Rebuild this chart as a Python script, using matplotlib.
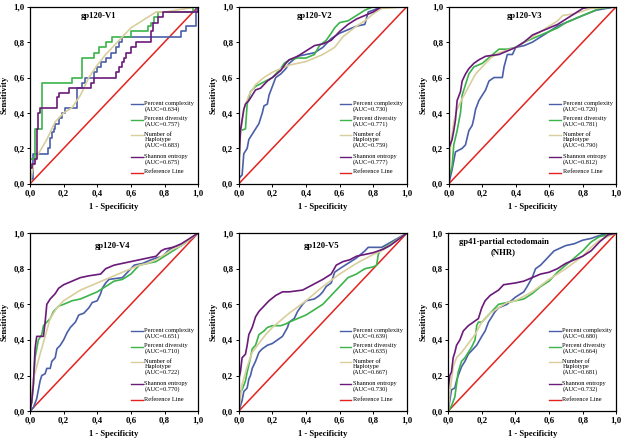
import numpy as np
import matplotlib
matplotlib.use("Agg")
import matplotlib.pyplot as plt

plt.rcParams['font.family'] = ['Liberation Serif', 'DejaVu Serif']

# panel titles and AUC values (complexity, diversity, haplotype, entropy)
titles = ["gp120-V1", "gp120-V2", "gp120-V3", "gp120-V4", "gp120-V5",
          "gp41-partial ectodomain\n(NHR)"]
auc = [[0.634, 0.757, 0.683, 0.675],
       [0.730, 0.771, 0.759, 0.777],
       [0.720, 0.781, 0.790, 0.812],
       [0.651, 0.710, 0.722, 0.770],
       [0.639, 0.635, 0.667, 0.730],
       [0.680, 0.664, 0.681, 0.732]]
names = ["Percent complexity", "Percent diversity", "Number of\nHaplotype", "Shannon entropy"]
colors = ["#4a5fa8", "#3cb44a", "#d9cf9c", "#6a1a78"]
ref_color = "#e4231f"
tick_vals = [0, 0.2, 0.4, 0.6, 0.8, 1.0]
tick_labels = ["0,0", "0,2", "0,4", "0,6", "0,8", "1,0"]

# ---- gp120-V1 (step curves) ----
v1_cx = [0, 0, 0.02, 0.11, 0.12, 0.13, 0.14, 0.15, 0.17, 0.19, 0.21, 0.28, 0.31, 0.33, 0.38, 0.40, 0.42, 0.45, 0.48, 0.51, 0.53, 0.55, 0.90, 0.93, 0.99, 1.0]
v1_cy = [0, 0.03, 0.17, 0.20, 0.26, 0.29, 0.31, 0.34, 0.37, 0.40, 0.43, 0.54, 0.57, 0.60, 0.63, 0.66, 0.69, 0.71, 0.74, 0.77, 0.80, 0.83, 0.86, 0.89, 1.0, 1.0]
v1_dx = [0, 0, 0.03, 0.07, 0.25, 0.31, 0.38, 0.41, 0.45, 0.49, 0.60, 0.70, 0.72, 0.74, 0.76, 0.97, 1.0]
v1_dy = [0, 0.14, 0.31, 0.57, 0.60, 0.71, 0.74, 0.77, 0.80, 0.83, 0.86, 0.89, 0.91, 0.94, 0.97, 1.0, 1.0]
v1_hx = [0, 0.02, 0.05, 0.10, 0.15, 0.20, 0.25, 0.30, 0.35, 0.40, 0.45, 0.50, 0.55, 0.60, 0.70, 0.75, 0.80, 1.0]
v1_hy = [0, 0.10, 0.17, 0.25, 0.35, 0.40, 0.43, 0.50, 0.60, 0.67, 0.73, 0.78, 0.83, 0.88, 0.94, 0.97, 0.97, 1.0]
v1_ex = [0, 0, 0.01, 0.03, 0.04, 0.05, 0.06, 0.16, 0.17, 0.23, 0.36, 0.38, 0.51, 0.53, 0.55, 0.56, 0.57, 0.60, 0.63, 0.72, 0.73, 0.76, 0.79, 1.0, 1.0]
v1_ey = [0, 0.09, 0.11, 0.14, 0.31, 0.40, 0.43, 0.49, 0.51, 0.54, 0.57, 0.60, 0.63, 0.66, 0.69, 0.71, 0.74, 0.77, 0.80, 0.86, 0.91, 0.94, 0.97, 1.0, 1.0]

# ---- gp120-V2 ----
v2_cx = [0, 0, 0.02, 0.03, 0.05, 0.06, 0.08, 0.10, 0.12, 0.14, 0.15, 0.17, 0.18, 0.20, 0.22, 0.25, 0.28, 0.30, 0.35, 0.40, 0.45, 0.50, 0.55, 0.60, 0.65, 0.70, 0.75, 0.77, 0.80, 0.85, 1.0]
v2_cy = [0, 0.03, 0.05, 0.17, 0.20, 0.25, 0.28, 0.31, 0.34, 0.40, 0.44, 0.45, 0.50, 0.55, 0.60, 0.62, 0.65, 0.68, 0.72, 0.73, 0.74, 0.77, 0.82, 0.85, 0.87, 0.89, 0.90, 0.97, 0.98, 1.0, 1.0]
v2_dx = [0, 0, 0.01, 0.04, 0.05, 0.07, 0.10, 0.14, 0.20, 0.25, 0.27, 0.30, 0.35, 0.40, 0.45, 0.48, 0.52, 0.55, 0.57, 0.60, 0.65, 0.70, 0.75, 0.80, 1.0]
v2_dy = [0, 0.10, 0.30, 0.31, 0.45, 0.52, 0.55, 0.57, 0.60, 0.65, 0.68, 0.70, 0.71, 0.71, 0.73, 0.78, 0.81, 0.85, 0.88, 0.91, 0.92, 0.95, 0.98, 1.0, 1.0]
v2_hx = [0, 0.01, 0.03, 0.06, 0.10, 0.15, 0.20, 0.25, 0.30, 0.35, 0.40, 0.45, 0.50, 0.57, 0.62, 0.70, 0.75, 0.80, 0.85, 1.0]
v2_hy = [0, 0.28, 0.42, 0.50, 0.56, 0.60, 0.63, 0.65, 0.67, 0.68, 0.69, 0.71, 0.73, 0.77, 0.83, 0.89, 0.92, 0.96, 0.99, 1.0]
v2_ex = [0, 0, 0.01, 0.02, 0.03, 0.04, 0.06, 0.08, 0.10, 0.13, 0.17, 0.20, 0.25, 0.28, 0.30, 0.35, 0.40, 0.45, 0.50, 0.55, 0.60, 0.65, 0.70, 0.75, 0.80, 0.85, 1.0]
v2_ey = [0, 0.10, 0.30, 0.36, 0.42, 0.45, 0.47, 0.50, 0.53, 0.54, 0.58, 0.60, 0.64, 0.68, 0.70, 0.72, 0.75, 0.78, 0.79, 0.81, 0.86, 0.90, 0.93, 0.95, 0.97, 1.0, 1.0]

# ---- gp120-V3 ----
v3_cx = [0, 0.02, 0.04, 0.08, 0.10, 0.12, 0.14, 0.15, 0.16, 0.18, 0.20, 0.22, 0.24, 0.27, 0.32, 0.33, 0.35, 0.38, 0.40, 0.45, 0.50, 0.55, 0.60, 0.65, 0.70, 0.75, 0.80, 0.88, 1.0]
v3_cy = [0, 0.08, 0.18, 0.20, 0.22, 0.30, 0.33, 0.37, 0.42, 0.47, 0.50, 0.53, 0.58, 0.60, 0.60, 0.66, 0.73, 0.73, 0.77, 0.78, 0.80, 0.83, 0.86, 0.89, 0.91, 0.93, 0.95, 0.98, 1.0]
v3_dx = [0, 0, 0.02, 0.03, 0.05, 0.07, 0.08, 0.10, 0.12, 0.15, 0.20, 0.25, 0.30, 0.35, 0.40, 0.45, 0.50, 0.55, 0.60, 0.65, 0.70, 0.75, 0.80, 0.85, 0.90, 1.0]
v3_dy = [0, 0.03, 0.10, 0.22, 0.30, 0.40, 0.50, 0.56, 0.62, 0.66, 0.68, 0.72, 0.76, 0.76, 0.77, 0.80, 0.82, 0.84, 0.86, 0.88, 0.91, 0.93, 0.95, 0.97, 0.99, 1.0]
v3_hx = [0, 0.01, 0.03, 0.05, 0.08, 0.12, 0.16, 0.20, 0.25, 0.30, 0.40, 0.50, 0.60, 0.65, 0.68, 0.75, 0.85, 1.0]
v3_hy = [0, 0.20, 0.35, 0.42, 0.48, 0.55, 0.62, 0.66, 0.71, 0.74, 0.77, 0.83, 0.89, 0.92, 0.95, 0.96, 0.99, 1.0]
v3_ex = [0, 0, 0.02, 0.03, 0.04, 0.05, 0.07, 0.08, 0.10, 0.12, 0.15, 0.18, 0.22, 0.30, 0.35, 0.40, 0.45, 0.50, 0.55, 0.60, 0.65, 0.70, 0.75, 0.80, 0.85, 1.0]
v3_ey = [0, 0.20, 0.25, 0.30, 0.36, 0.47, 0.52, 0.58, 0.62, 0.65, 0.68, 0.70, 0.72, 0.73, 0.75, 0.77, 0.80, 0.84, 0.86, 0.88, 0.90, 0.93, 0.96, 0.99, 1.0, 1.0]

# ---- gp120-V4 ----
v4_cx = [0, 0.02, 0.04, 0.05, 0.06, 0.07, 0.09, 0.10, 0.12, 0.13, 0.15, 0.16, 0.18, 0.20, 0.22, 0.24, 0.27, 0.29, 0.32, 0.35, 0.37, 0.40, 0.42, 0.43, 0.45, 0.47, 0.55, 0.58, 0.62, 0.67, 0.72, 0.75, 0.79, 0.82, 0.85, 0.90, 1.0]
v4_cy = [0, 0.02, 0.07, 0.12, 0.17, 0.20, 0.21, 0.24, 0.24, 0.28, 0.30, 0.35, 0.37, 0.40, 0.44, 0.47, 0.50, 0.54, 0.55, 0.58, 0.61, 0.62, 0.66, 0.69, 0.72, 0.74, 0.75, 0.78, 0.82, 0.83, 0.85, 0.86, 0.87, 0.90, 0.92, 0.93, 1.0]
v4_dx = [0, 0.01, 0.02, 0.03, 0.05, 0.07, 0.08, 0.10, 0.12, 0.14, 0.17, 0.20, 0.25, 0.30, 0.35, 0.40, 0.45, 0.50, 0.55, 0.60, 0.65, 0.70, 0.75, 0.80, 0.85, 0.90, 1.0]
v4_dy = [0, 0.05, 0.15, 0.30, 0.40, 0.43, 0.48, 0.50, 0.52, 0.56, 0.59, 0.60, 0.62, 0.63, 0.65, 0.67, 0.70, 0.73, 0.74, 0.77, 0.82, 0.83, 0.84, 0.87, 0.90, 0.93, 1.0]
v4_hx = [0, 0.02, 0.04, 0.06, 0.09, 0.12, 0.16, 0.20, 0.25, 0.30, 0.40, 0.50, 0.60, 0.65, 0.70, 0.75, 0.80, 0.85, 0.90, 1.0]
v4_hy = [0, 0.18, 0.25, 0.32, 0.42, 0.52, 0.58, 0.62, 0.65, 0.68, 0.72, 0.76, 0.80, 0.82, 0.83, 0.85, 0.88, 0.91, 0.93, 1.0]
v4_ex = [0, 0.01, 0.02, 0.03, 0.04, 0.08, 0.09, 0.10, 0.12, 0.15, 0.17, 0.20, 0.25, 0.30, 0.35, 0.42, 0.45, 0.50, 0.55, 0.60, 0.65, 0.70, 0.75, 0.78, 0.80, 0.85, 0.90, 1.0]
v4_ey = [0, 0.05, 0.15, 0.35, 0.42, 0.42, 0.50, 0.60, 0.63, 0.66, 0.69, 0.71, 0.73, 0.75, 0.76, 0.77, 0.80, 0.82, 0.83, 0.84, 0.85, 0.86, 0.87, 0.90, 0.91, 0.92, 0.94, 1.0]

# ---- gp120-V5 ----
v5_cx = [0, 0.02, 0.03, 0.05, 0.06, 0.07, 0.08, 0.10, 0.12, 0.14, 0.17, 0.20, 0.23, 0.26, 0.29, 0.30, 0.33, 0.35, 0.38, 0.40, 0.45, 0.48, 0.50, 0.52, 0.55, 0.57, 0.60, 0.65, 0.70, 0.75, 0.77, 0.85, 1.0]
v5_cy = [0, 0.06, 0.11, 0.13, 0.18, 0.20, 0.24, 0.28, 0.33, 0.35, 0.37, 0.38, 0.40, 0.42, 0.47, 0.50, 0.52, 0.56, 0.60, 0.62, 0.63, 0.65, 0.67, 0.70, 0.72, 0.78, 0.80, 0.83, 0.86, 0.90, 0.92, 0.92, 1.0]
v5_dx = [0, 0, 0.02, 0.04, 0.05, 0.07, 0.08, 0.10, 0.12, 0.15, 0.17, 0.20, 0.25, 0.28, 0.30, 0.35, 0.40, 0.45, 0.50, 0.55, 0.60, 0.65, 0.70, 0.75, 0.80, 0.82, 0.83, 0.84, 1.0]
v5_dy = [0, 0.10, 0.12, 0.17, 0.22, 0.30, 0.35, 0.37, 0.43, 0.45, 0.47, 0.48, 0.48, 0.49, 0.50, 0.52, 0.54, 0.57, 0.60, 0.65, 0.70, 0.75, 0.77, 0.80, 0.81, 0.82, 0.88, 0.90, 1.0]
v5_hx = [0, 0.02, 0.05, 0.08, 0.12, 0.16, 0.20, 0.30, 0.40, 0.50, 0.60, 0.70, 0.80, 0.85, 1.0]
v5_hy = [0, 0.15, 0.25, 0.33, 0.38, 0.43, 0.47, 0.55, 0.62, 0.70, 0.77, 0.83, 0.88, 0.90, 1.0]
v5_ex = [0, 0, 0.01, 0.02, 0.04, 0.05, 0.06, 0.08, 0.10, 0.12, 0.15, 0.18, 0.22, 0.26, 0.30, 0.38, 0.42, 0.46, 0.50, 0.55, 0.58, 0.62, 0.66, 0.70, 0.75, 0.80, 0.86, 0.90, 1.0]
v5_ey = [0, 0.18, 0.22, 0.30, 0.32, 0.37, 0.43, 0.47, 0.53, 0.56, 0.59, 0.62, 0.65, 0.67, 0.67, 0.68, 0.70, 0.72, 0.74, 0.77, 0.82, 0.84, 0.85, 0.87, 0.88, 0.89, 0.91, 0.93, 1.0]

# ---- gp41-partial ectodomain (NHR) ----
v6_cx = [0, 0.02, 0.04, 0.05, 0.06, 0.08, 0.10, 0.12, 0.14, 0.17, 0.20, 0.22, 0.24, 0.26, 0.28, 0.30, 0.35, 0.40, 0.45, 0.47, 0.50, 0.52, 0.55, 0.58, 0.61, 0.63, 0.70, 0.75, 0.80, 0.85, 0.88, 0.95, 1.0]
v6_cy = [0, 0.12, 0.13, 0.17, 0.20, 0.25, 0.28, 0.32, 0.34, 0.37, 0.42, 0.45, 0.50, 0.53, 0.56, 0.58, 0.60, 0.64, 0.67, 0.70, 0.75, 0.80, 0.82, 0.85, 0.88, 0.90, 0.93, 0.94, 0.96, 0.97, 0.98, 1.0, 1.0]
v6_dx = [0, 0.02, 0.04, 0.05, 0.06, 0.08, 0.10, 0.12, 0.14, 0.16, 0.17, 0.18, 0.20, 0.22, 0.25, 0.27, 0.30, 0.35, 0.40, 0.45, 0.50, 0.55, 0.60, 0.65, 0.70, 0.75, 0.80, 0.85, 0.90, 1.0]
v6_dy = [0, 0.03, 0.08, 0.15, 0.22, 0.28, 0.30, 0.33, 0.36, 0.40, 0.48, 0.50, 0.50, 0.52, 0.55, 0.57, 0.60, 0.61, 0.62, 0.63, 0.66, 0.70, 0.73, 0.78, 0.82, 0.86, 0.90, 0.95, 0.98, 1.0]
v6_hx = [0, 0.01, 0.03, 0.05, 0.08, 0.12, 0.16, 0.20, 0.25, 0.30, 0.35, 0.40, 0.50, 0.60, 0.70, 0.80, 0.85, 0.90, 1.0]
v6_hy = [0, 0.10, 0.25, 0.30, 0.33, 0.38, 0.43, 0.50, 0.55, 0.58, 0.61, 0.62, 0.67, 0.74, 0.80, 0.87, 0.92, 0.96, 1.0]
v6_ex = [0, 0, 0.01, 0.02, 0.03, 0.04, 0.05, 0.07, 0.09, 0.12, 0.15, 0.18, 0.20, 0.22, 0.25, 0.30, 0.33, 0.40, 0.45, 0.50, 0.55, 0.60, 0.65, 0.70, 0.75, 0.80, 0.85, 0.90, 0.95, 1.0]
v6_ey = [0, 0.12, 0.20, 0.22, 0.30, 0.33, 0.37, 0.40, 0.45, 0.48, 0.50, 0.52, 0.58, 0.62, 0.65, 0.68, 0.71, 0.72, 0.73, 0.75, 0.77, 0.78, 0.80, 0.83, 0.85, 0.87, 0.90, 0.95, 0.99, 1.0]

panels = [
    [(v1_cx, v1_cy), (v1_dx, v1_dy), (v1_hx, v1_hy), (v1_ex, v1_ey)],
    [(v2_cx, v2_cy), (v2_dx, v2_dy), (v2_hx, v2_hy), (v2_ex, v2_ey)],
    [(v3_cx, v3_cy), (v3_dx, v3_dy), (v3_hx, v3_hy), (v3_ex, v3_ey)],
    [(v4_cx, v4_cy), (v4_dx, v4_dy), (v4_hx, v4_hy), (v4_ex, v4_ey)],
    [(v5_cx, v5_cy), (v5_dx, v5_dy), (v5_hx, v5_hy), (v5_ex, v5_ey)],
    [(v6_cx, v6_cy), (v6_dx, v6_dy), (v6_hx, v6_hy), (v6_ex, v6_ey)],
]

# axes boxes in figure fractions [left, bottom, width, height]
boxes = [[0.048, 0.586, 0.269, 0.399], [0.382, 0.586, 0.269, 0.399], [0.718, 0.586, 0.268, 0.399],
         [0.048, 0.074, 0.269, 0.401], [0.382, 0.074, 0.269, 0.401], [0.717, 0.074, 0.269, 0.401]]
title_pos = [(0.41, 0.95), (0.45, 0.95), (0.45, 0.95), (0.49, 0.93), (0.49, 0.93), (0.33, 0.92)]

fig = plt.figure(figsize=(6.25, 4.44), dpi=100)

for i in range(6):
    ax = fig.add_axes(boxes[i])
    ax.plot([0, 1], [0, 1], color=ref_color, lw=1.1, zorder=1)
    for k in range(4):
        xs, ys = panels[i][k]
        if i == 0 and k != 2:
            ax.plot(xs, ys, color=colors[k], lw=1.2, drawstyle='steps-post', zorder=2)
        else:
            ax.plot(xs, ys, color=colors[k], lw=1.2, zorder=2)
    ax.set_xlim(0, 1)
    ax.set_ylim(0, 1)
    ax.set_xticks(tick_vals)
    ax.set_yticks(tick_vals)
    ax.set_xticklabels(tick_labels, fontsize=6.3, fontweight='bold')
    ax.set_yticklabels(tick_labels, fontsize=6.3, fontweight='bold')
    ax.tick_params(length=2.5, width=0.7, pad=1.5)
    for s in ax.spines.values():
        s.set_linewidth(0.9)
    ax.set_xlabel("1 - Specificity", fontsize=6.2, fontweight='bold', labelpad=4)
    ax.set_ylabel("Sensitivity", fontsize=6.2, fontweight='bold', labelpad=3)
    ax.text(title_pos[i][0], title_pos[i][1], titles[i], transform=ax.transAxes,
            ha='center', va='center', fontsize=6.2, fontweight='bold', linespacing=1.3)

    # legend (handle aligned to first text line, as in SPSS output)
    y = 0.45
    lx0, lx1, tx = 0.60, 0.67, 0.68
    step = 0.0385
    for k in range(4):
        label = names[k] + "\n(AUC=%.3f)" % auc[i][k]
        ax.plot([lx0, lx1], [y, y], color=colors[k], lw=1.0, transform=ax.transAxes, clip_on=False)
        ax.text(tx, y + 0.018, label, transform=ax.transAxes, ha='left', va='top',
                fontsize=4.6, linespacing=1.05)
        y -= step * (label.count("\n") + 1) + 0.01
    ax.plot([lx0, lx1], [y, y], color=ref_color, lw=1.0, transform=ax.transAxes, clip_on=False)
    ax.text(tx, y + 0.018, "Reference Line", transform=ax.transAxes, ha='left', va='top', fontsize=4.6)

fig.savefig("out.png", dpi=100)
